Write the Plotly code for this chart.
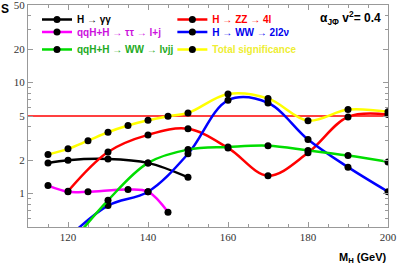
import plotly.graph_objects as go

mass_gg = [115, 120, 130, 140, 150]
sig_gg = [1.89, 2.0, 2.05, 1.89, 1.40]

mass_tt = [115, 120, 125, 135, 140, 145]
sig_tt = [1.18, 1.04, 1.04, 1.09, 1.04, 0.68]

mass_zz = [120, 130, 140, 150, 160, 170, 180, 190, 200]
sig_zz = [1.05, 2.37, 3.38, 3.83, 2.58, 1.45, 2.33, 4.91, 5.15]

mass_ww2 = [120, 130, 140, 150, 160, 170, 180, 190, 200]
sig_ww2 = [0.40, 0.78, 1.04, 2.28, 6.93, 6.56, 3.07, 1.73, 1.04]

mass_wwj = [120, 130, 140, 150, 160, 170, 180, 190, 200]
sig_wwj = [0.33, 0.87, 1.89, 2.49, 2.63, 2.70, 2.45, 2.20, 1.93]

mass_tot = [115, 120, 125, 130, 135, 140, 145, 150, 160, 170, 180, 190, 200]
sig_tot = [2.25, 2.53, 3.0, 3.57, 4.1, 4.57, 4.97, 5.33, 7.9, 7.2, 4.54, 5.71, 5.45]

discovery = 5
x_range = [110, 200]

# name, x, y, line colour, text colour, legend column (0 left, 1 right), legend row
series = [
    ("H → γγ", mass_gg, sig_gg, "#000000", "#000000", 0, 0),
    ("H → ZZ → 4l", mass_zz, sig_zz, "#ff0000", "#ff0000", 1, 0),
    ("qqH+H → ττ → l+j", mass_tt, sig_tt, "#ff00ff", "#cc11dd", 0, 1),
    ("H → WW → 2l2ν", mass_ww2, sig_ww2, "#0000ff", "#0000ee", 1, 1),
    ("qqH+H → WW → lνjj", mass_wwj, sig_wwj, "#00dd00", "#22aa22", 0, 2),
    ("Total significance", mass_tot, sig_tot, "#ffff00", "#eeee33", 1, 2),
]

fig = go.Figure()
fig.add_trace(go.Scatter(x=x_range, y=[discovery, discovery], mode="lines",
                         line=dict(color="#ff0000", width=1.5), showlegend=False,
                         hoverinfo="skip"))

legend_x = [0.025, 0.401]
legend_y = [1.0, 0.944, 0.865]
legend_layouts = {}
for i, (name, x, y, c, tc, col, row) in enumerate(series):
    lg = "legend" if i == 0 else "legend%d" % (i + 1)
    fig.add_trace(go.Scatter(
        x=x, y=y, mode="lines+markers", name="<b>%s</b>" % name, legend=lg,
        line=dict(color=c, width=2.5, shape="spline", smoothing=1.0),
        marker=dict(color="black", size=7),
    ))
    legend_layouts[lg] = dict(
        x=legend_x[col], y=legend_y[row], xanchor="left", yanchor="top",
        bgcolor="rgba(0,0,0,0)", itemwidth=30,
        font=dict(family="Liberation Sans", size=10, color=tc),
    )

axis_common = dict(showline=True, linecolor="#999999", linewidth=1, mirror="ticks",
                   ticks="inside", tickcolor="#999999", showgrid=False, zeroline=False,
                   automargin=False,
                   tickfont=dict(family="Liberation Serif", size=11, color="#333333"))
fig.update_xaxes(range=x_range, tickvals=[120, 140, 160, 180, 200], ticklen=5,
                 minor=dict(ticks="inside", dtick=5, tick0=110, ticklen=3, tickcolor="#999999"),
                 **axis_common)
fig.update_yaxes(type="log", range=[-0.301, 1.699], tickvals=[1, 2, 5, 10, 20, 50],
                 ticktext=["1", "2", "5", "10", "20", "50"], ticklen=5,
                 ticklabeloverflow="allow",
                 minor=dict(ticks="inside", ticklen=3, tickcolor="#999999", dtick="D1"),
                 **axis_common)

fig.update_layout(
    width=398, height=265,
    margin=dict(l=28, r=10, t=5, b=38, autoexpand=False),
    paper_bgcolor="white", plot_bgcolor="white",
    annotations=[
        dict(text="<b>S</b>", x=0, y=1, xref="paper", yref="paper", xanchor="right",
             yanchor="middle", xshift=-17, yshift=-4, showarrow=False,
             font=dict(family="Liberation Sans", size=12, color="black")),
        dict(text="<b>M<sub>H</sub> (GeV)</b>", x=1, y=0, xref="paper", yref="paper",
             xanchor="right", yanchor="top", yshift=-22, xshift=0, showarrow=False,
             font=dict(family="Liberation Sans", size=11, color="black")),
        dict(text="<b>α<sub>JΦ</sub> v<sup>2</sup>= 0.4</b>", x=0.985, y=0.99, xref="paper",
             yref="paper", xanchor="right", yanchor="top", showarrow=False,
             font=dict(family="Liberation Sans", size=12, color="black")),
    ],
)
fig.update_layout(**legend_layouts)

fig.write_html("out.html", config={"displayModeBar": False},
               post_script="document.body.style.margin='0';")
